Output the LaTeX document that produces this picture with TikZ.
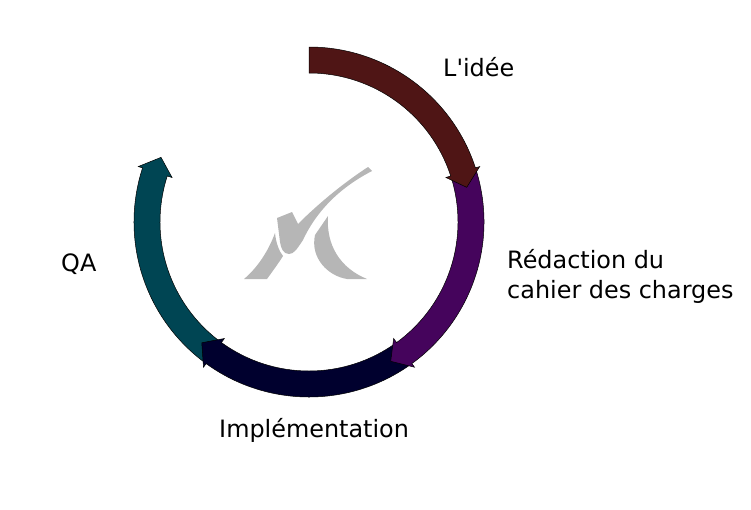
\documentclass[tikz,border=0pt]{standalone}
\usepackage{fontspec}
\setmainfont{DejaVu Sans}
\definecolor{ideacol}{HTML}{4F1515}
\definecolor{speccol}{HTML}{45045C}
\definecolor{implcol}{HTML}{00002E}
\definecolor{qacol}{HTML}{004553}
\definecolor{logocol}{HTML}{B6B6B6}
\tikzset{
	phase/.style={draw=black, line width=0.5pt, fill=#1},
	logopart/.style={fill=logocol, draw=none},
	label/.style={font=\fontsize{23.9}{30}\selectfont, inner sep=0, align=left, anchor=west},
}
% fill colour, start angle, end angle
\newcommand{\phasearrow}[3]{
	\draw[phase=#1] (#2:175) arc (#2:#3:175) -- (#3:179.5)
		-- ({#3-5.6}:161.5) -- (#3:144) -- (#3:149) arc (#3:#2:149) -- cycle;
}
\begin{document}
\begin{tikzpicture}[x=1pt, y=1pt]
		\useasboundingbox (0,-509) rectangle (751,0);
		\begin{scope}[shift={(309,-222)}]
			\phasearrow{qacol}{-126}{-198}
			\phasearrow{implcol}{-54}{-126}
			\phasearrow{speccol}{18}{-54}
			\phasearrow{ideacol}{90}{18}
		\end{scope}
		\begin{scope}[y=-1pt]
		% logo
		\fill[logopart] (277,218) -- (292,212) -- (298,224)
			.. controls (320,202) and (345,182) .. (368,167) -- (372,171)
			.. controls (343,186) and (318,208) .. (303,240)
			.. controls (297,249) and (294,254) .. (289,254)
			.. controls (283,254) and (281,248) .. (280,242) -- cycle;
		\fill[logopart] (275,233) .. controls (276,243) and (279,251) .. (283,256)
			.. controls (278,264) and (272,272) .. (267,279) -- (244,279)
			.. controls (257,268) and (268,252) .. (275,233) -- cycle;
		\fill[logopart] (328,216) .. controls (326,245) and (340,268) .. (367,279)
			-- (347,279) .. controls (328,276) and (310,258) .. (315,235) -- cycle;
		\node[label] (idea) at (443,67) {L\textquotesingle idée};
		\node[label] (spec) at (507,276) {Rédaction du\\cahier des charges};
		\node[label] (impl) at (219,430) {Implémentation};
		\node[label] (qa) at (61,264) {QA};
		\end{scope}
\end{tikzpicture}
\end{document}
